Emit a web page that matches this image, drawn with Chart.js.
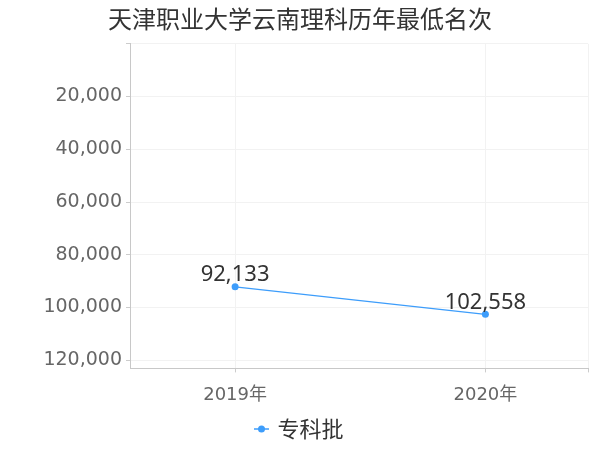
<!DOCTYPE html>
<html>
<head>
<meta charset="utf-8">
<script src="https://cdn.jsdelivr.net/npm/chart.js@4/dist/chart.umd.min.js"></script>
<style>
html,body{margin:0;padding:0;background:#fff;}
#wrap{width:600px;height:450px;}
</style>
</head>
<body>
<div id="wrap"><canvas id="c" width="600" height="450"></canvas></div>
<script>
const titleText = '天津职业大学云南理科历年最低名次';
const categories = ['2019年', '2020年'];
const seriesName = '专科批';
const seriesValues = [92133, 102558];
const yTickValues = [20000, 40000, 60000, 80000, 100000, 120000];

const lineColor = '#3d9dfb';

// legend marker: short line with dot
const marker = document.createElement('canvas');
marker.width = 15; marker.height = 8;
(function(){
  const m = marker.getContext('2d');
  m.strokeStyle = lineColor; m.lineWidth = 1.5;
  m.beginPath(); m.moveTo(0,4); m.lineTo(15,4); m.stroke();
  m.fillStyle = lineColor;
  m.beginPath(); m.arc(7.5,4,3.5,0,Math.PI*2); m.fill();
})();

const fmt = v => v.toLocaleString('en-US');

const dataLabels = {
  id: 'dataLabels',
  afterDatasetsDraw(chart) {
    const ctx = chart.ctx;
    chart.data.datasets.forEach((ds, i) => {
      const meta = chart.getDatasetMeta(i);
      meta.data.forEach((pt, j) => {
        ctx.save();
        ctx.font = '22px "Noto Sans", sans-serif';
        ctx.fillStyle = '#333';
        ctx.textAlign = 'center';
        ctx.textBaseline = 'bottom';
        ctx.fillText(fmt(ds.data[j].y), pt.x, pt.y - 1);
        ctx.restore();
      });
    });
  }
};

new Chart(document.getElementById('c'), {
  type: 'line',
  data: {
    datasets: [{
      label: seriesName,
      data: seriesValues.map((v, i) => ({x: i, y: v})),
      borderColor: lineColor,
      backgroundColor: lineColor,
      borderWidth: 1.2,
      pointRadius: 3.5,
      pointHoverRadius: 3.5,
      pointBackgroundColor: lineColor,
      pointBorderWidth: 0,
      tension: 0,
      fill: false
    }]
  },
  options: {
    responsive: false,
    animation: false,
    layout: {padding: {left: 12, right: 12, top: 0, bottom: 0}},
    plugins: {
      title: {
        display: true,
        text: titleText,
        color: '#333',
        font: {size: 24, family: '"Noto Sans CJK SC", sans-serif', weight: 'normal'},
        padding: {top: 4, bottom: 11}
      },
      legend: {
        position: 'bottom',
        labels: {
          usePointStyle: true,
          pointStyle: marker,
          pointStyleWidth: 10,
          color: '#333',
          font: {size: 22, family: '"Noto Sans CJK SC", sans-serif'},
          padding: 0
        }
      },
      tooltip: {enabled: false}
    },
    scales: {
      x: {
        type: 'linear',
        min: -0.42,
        max: 1.41,
        afterBuildTicks: s => { s.ticks = categories.map((c, i) => ({value: i})).concat([{value: 1.41}]); },
        ticks: {
          autoSkip: false,
          maxRotation: 0,
          color: '#666',
          font: {size: 18, family: '"DejaVu Sans", "Noto Sans CJK SC", sans-serif'},
          padding: 12,
          callback: v => Number.isInteger(v) ? categories[v] : ''
        },
        grid: {color: '#f2f2f2', drawTicks: true, tickLength: 4, tickColor: '#ccc'},
        border: {color: '#c8c8c8'}
      },
      y: {
        reverse: true,
        min: 0,
        max: 123070,
        afterBuildTicks: s => { s.ticks = [0].concat(yTickValues).map(v => ({value: v})); },
        afterFit: s => { s.width = 118; },
        ticks: {
          color: '#666',
          font: {size: 19, family: '"DejaVu Sans", sans-serif'},
          padding: 4,
          callback: v => v === 0 ? '' : fmt(v)
        },
        grid: {color: '#f2f2f2', drawTicks: true, tickLength: 4, tickColor: '#ccc'},
        border: {color: '#c8c8c8'}
      }
    }
  },
  plugins: [dataLabels]
});
</script>
</body>
</html>
